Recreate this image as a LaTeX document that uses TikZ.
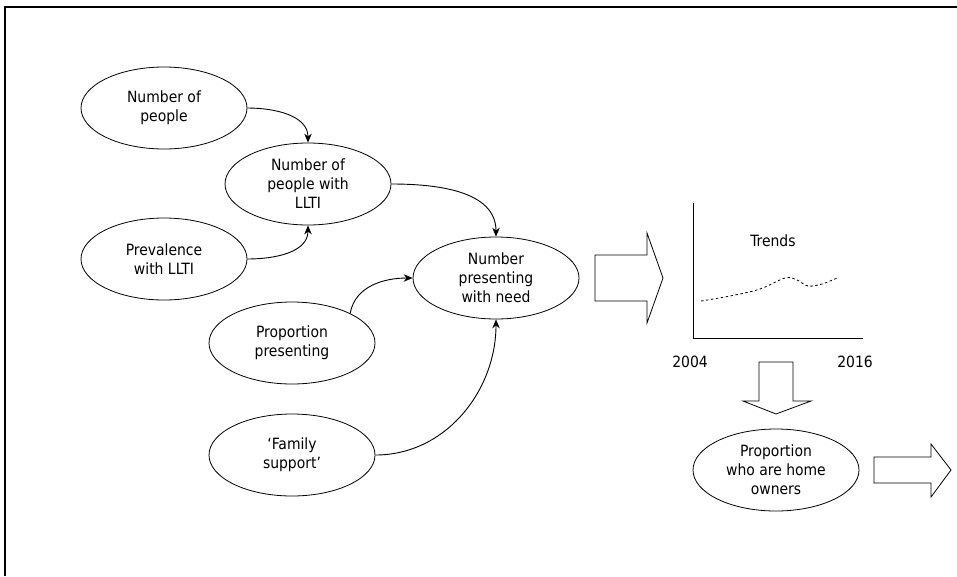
\documentclass[tikz,border=0pt]{standalone}
\usepackage{fontspec}
\setmainfont{DejaVu Sans Condensed}
\usetikzlibrary{shapes.geometric,arrows.meta}
\tikzset{
  oval/.style={ellipse,draw,line width=0.8pt,minimum width=166pt,minimum height=82pt,inner sep=0pt,align=center,font=\fontsize{15.5}{19}\selectfont},
  link/.style={line width=0.9pt,-{Stealth[length=9pt,width=7.5pt]}},
  blockarrow/.style={draw,line width=0.8pt,fill=white},
  lbl/.style={font=\fontsize{15.5}{19}\selectfont,inner sep=0pt}
}
\begin{document}
\begin{tikzpicture}[x=1pt,y=-1pt]
\useasboundingbox (0,0) rectangle (957,576);
% frame
\draw[line width=2pt] (4,7) -- (957,7);
\draw[line width=1.3pt] (5,6) -- (5,576);
% ellipses
\node[oval] (people) at (164,108) {Number of\\people};
\node[oval] (llti) at (308,184) {Number of\\people with\\LLTI};
\node[oval] (prev) at (164,259) {Prevalence\\with LLTI};
\node[oval] (prop) at (292,343) {Proportion\\presenting};
\node[oval] (fam) at (292,455) {‘Family\\support’};
\node[oval] (need) at (496,278) {Number\\presenting\\with need};
\node[oval] (home) at (776,470) {Proportion\\who are home\\owners};
% connectors
\draw[link] (people.east) to[out=0,in=90] (llti.north);
\draw[link] (prev.east) to[out=0,in=-90] (llti.south);
\draw[link] (llti.east) to[out=0,in=90] (need.north);
\draw[link] (prop.27) to[out=80,in=180] (need.west);
\draw[link] (fam.east) to[out=0,in=-90] (need.south);
% block arrow right 1
\draw[blockarrow] (595,255) -- (647,255) -- (647,233) -- (663,278) -- (647,323) -- (647,301) -- (595,301) -- cycle;
% chart
\draw[line width=0.9pt] (693,203) -- (693,338) -- (863,338);
\node[lbl] (trends) at (773,241) {Trends};
\draw[line width=0.8pt,dash pattern=on 2.5pt off 2.5pt] plot[smooth,tension=0.6] coordinates {(701,301) (730,296) (760,289) (785,278) (797,280) (808,286) (822,284) (837,278)};
\node[lbl] (y2004) at (690,362) {2004};
\node[lbl] (y2016) at (855,362) {2016};
% block arrow down
\draw[blockarrow] (759,362) -- (793,362) -- (793,401) -- (811,401) -- (776,414) -- (743,401) -- (759,401) -- cycle;
% block arrow right 2
\draw[blockarrow] (874,457) -- (931,457) -- (931,444) -- (951,470) -- (931,497) -- (931,483) -- (874,483) -- cycle;
\end{tikzpicture}
\end{document}
